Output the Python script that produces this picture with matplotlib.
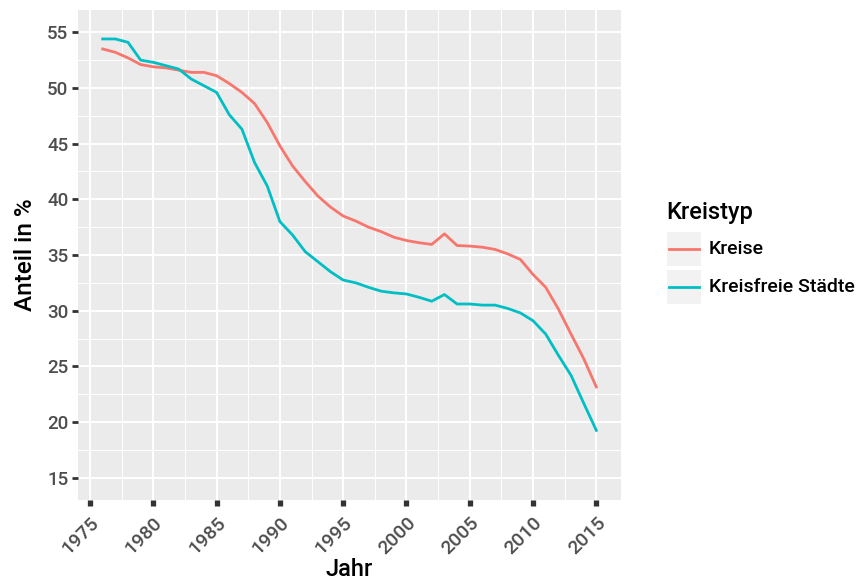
import numpy as np
import matplotlib.pyplot as plt
from matplotlib.lines import Line2D
from matplotlib.patches import Rectangle

plt.rcParams['font.family'] = ['Roboto', 'DejaVu Sans']
plt.rcParams['font.weight'] = 'medium'
plt.rcParams['axes.labelweight'] = 'medium'

years = list(range(1976, 2016))
kreise = [53.5, 53.2, 52.7, 52.1, 51.9, 51.8, 51.6, 51.4, 51.4, 51.1,
          50.4, 49.6, 48.6, 46.9, 44.8, 43.0, 41.6, 40.3, 39.3, 38.5,
          38.05, 37.5, 37.1, 36.6, 36.3, 36.1, 35.95, 36.9, 35.85, 35.8,
          35.7, 35.5, 35.1, 34.6, 33.25, 32.1, 30.15, 27.9, 25.7, 23.15]
staedte = [54.4, 54.4, 54.1, 52.5, 52.3, 52.0, 51.7, 50.8, 50.2, 49.6,
           47.6, 46.3, 43.3, 41.2, 38.0, 36.8, 35.3, 34.4, 33.5, 32.75,
           32.5, 32.1, 31.75, 31.6, 31.5, 31.2, 30.85, 31.45, 30.6, 30.6,
           30.5, 30.5, 30.2, 29.8, 29.1, 27.9, 26.0, 24.2, 21.7, 19.25]
series_names = ['Kreise', 'Kreisfreie Städte']
colors = ['#F8766D', '#00BFC4']

fig = plt.figure(figsize=(8.57, 5.83), dpi=100)
ax = fig.add_axes([78/857, 1-500/583, (621-78)/857, (500-10)/583])
ax.set_facecolor('#EBEBEB')

for vals, name, c in zip([kreise, staedte], series_names, colors):
    ax.plot(years, vals, color=c, linewidth=2.0, label=name)

ax.set_xlim(1974.05, 2016.95)
ax.set_ylim(13, 57)
ax.set_xticks(np.arange(1975, 2016, 5))
ax.set_yticks(np.arange(15, 56, 5))
ax.set_xticks(np.arange(1977.5, 2016, 5), minor=True)
ax.set_yticks(np.arange(17.5, 56, 5), minor=True)
ax.grid(True, which='major', color='white', linewidth=1.4)
ax.grid(True, which='minor', color='white', linewidth=0.7)
ax.set_axisbelow(True)
for s in ax.spines.values():
    s.set_visible(False)

ax.tick_params(axis='x', which='major', length=4, width=3.8, color='#333333',
               labelsize=14, labelcolor='#4D4D4D', pad=6)
ax.tick_params(axis='y', which='major', length=4, width=2.0, color='#333333',
               labelsize=13.5, labelcolor='#4D4D4D', pad=3)
ax.tick_params(which='minor', length=0)
plt.setp(ax.get_xticklabels(), rotation=45, ha='right', va='top',
         rotation_mode='anchor')

ax.set_xlabel('Jahr', fontsize=17, labelpad=0)
ax.set_ylabel('Anteil in %', fontsize=17.5, labelpad=7)

# legend drawn in figure pixels
W, H = 857, 583
fig.text(666/W, 1-213/H, 'Kreistyp', fontsize=17, va='center', ha='left')
for i, (name, c) in enumerate(zip(series_names, colors)):
    top = 232 + i*38
    fig.add_artist(Rectangle((667/W, 1-(top+34)/H), 34/W, 34/H,
                             transform=fig.transFigure, facecolor='#F2F2F2',
                             edgecolor='none'))
    yc = 1-(top+17)/H
    fig.add_artist(Line2D([669/W, 699/W], [yc, yc], transform=fig.transFigure,
                          color=c, linewidth=2.0))
    fig.text(709/W, yc, name, fontsize=14, va='center', ha='left')

fig.savefig('out.png', dpi=100)
